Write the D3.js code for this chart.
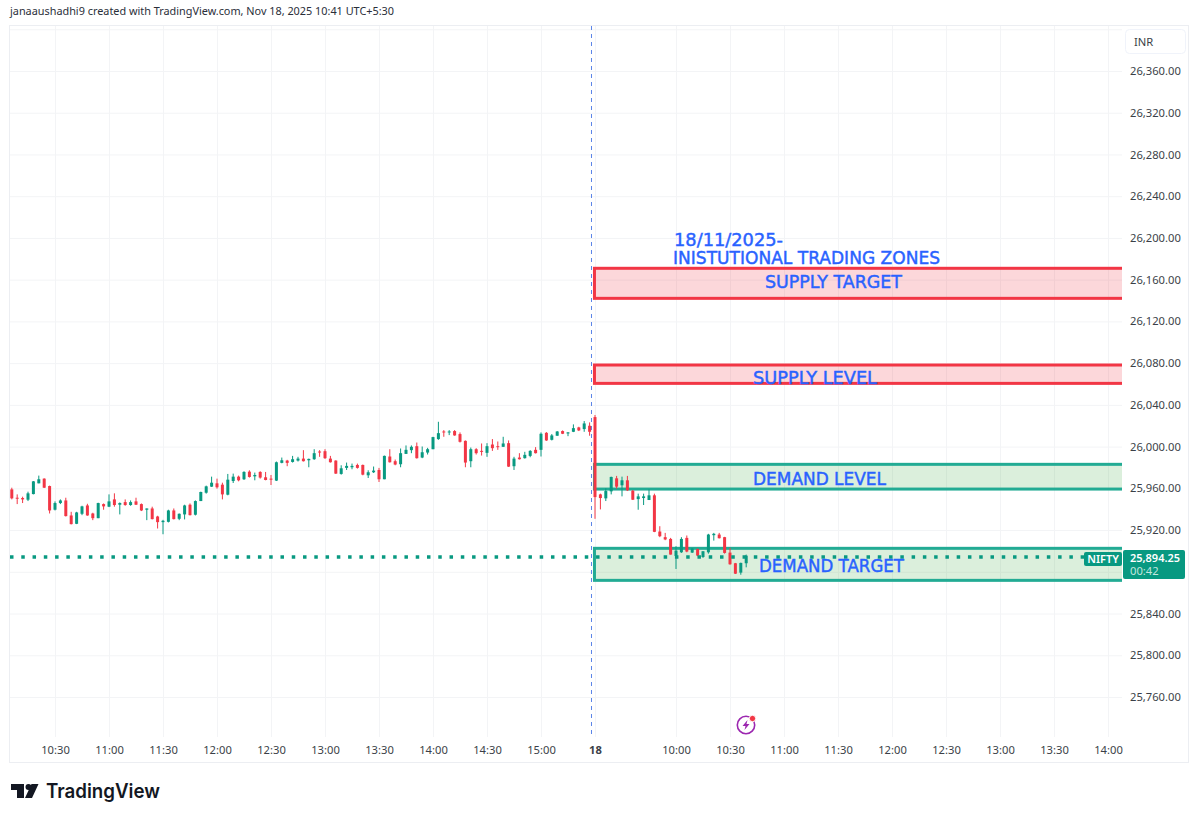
<!DOCTYPE html>
<html>
<head>
<meta charset="utf-8">
<title>NIFTY</title>
<script src="https://cdn.jsdelivr.net/npm/d3@7"></script>
<style>
  html, body { margin: 0; padding: 0; background: #fff; }
  svg { display: block; font-family: "Noto Sans", sans-serif; }
</style>
</head>
<body>
<div id="chart"></div>
<script>
// 3 minute bars, 17 Nov 10:06 through 18 Nov 10:39
const opens = [
  25959.0,25951.0,25950.7,25949.1,25954.5,25964.8,25969.3,25962.2,25939.5,25945.9,
  25948.4,25934.0,25926.0,25935.6,25943.6,25935.9,25931.4,25944.9,25942.4,25949.4,
  25944.3,25946.8,25944.0,25947.5,25944.9,25939.5,25940.7,25933.0,25927.6,25927.9,
  25938.8,25930.8,25935.0,25944.3,25934.7,25947.8,25955.8,25961.6,25964.8,25963.5,
  25953.9,25967.0,25971.2,25968.7,25976.0,25971.5,25975.7,25970.6,25969.3,25967.4,
  25984.4,25986.6,25985.3,25986.6,25988.5,25986.9,25987.9,25995.3,25995.6,25988.5,
  25986.6,25973.8,25979.6,25980.2,25982.4,25982.4,25972.5,25975.4,25977.6,25968.7,
  25990.5,25986.0,25983.1,25993.0,25996.6,26000.4,25989.5,25994.3,25997.5,26007.2,
  26014.5,26013.6,26014.9,26012.0,26005.5,25986.0,25997.5,25995.9,25994.0,26002.0,
  26000.4,25999.8,26003.3,25981.2,25989.5,25988.9,25991.1,25996.9,25996.9,26013.2,
  26006.5,26010.4,26014.9,26012.6,26014.2,26018.4,26016.8,26020.0,
  26028.3,25954.2,25950.4,25957.1,25969.6,25962.9,25967.7,25957.7,25949.7,25950.7,
  25948.8,25953.3,25918.6,25913.2,25911.5,25895.2,25898.7,25912.5,25898.4,25901.9,
  25894.2,25898.7,25915.1,25915.7,25913.2,25898.4,25888.2,25879.2,25888.2
];
const highs = [
  25960.6,25954.2,25952.0,25956.8,25967.0,25972.2,25969.6,25962.6,25947.5,25949.4,
  25951.0,25937.5,25937.5,25943.3,25945.2,25936.6,25946.2,25945.5,25954.2,25955.2,
  25946.5,25949.4,25948.4,25951.0,25945.5,25940.7,25942.4,25933.7,25929.8,25939.5,
  25940.7,25935.9,25944.3,25945.5,25948.4,25956.8,25962.6,25971.2,25969.3,25965.4,
  25973.8,25974.1,25972.2,25976.4,25977.3,25975.1,25976.4,25975.7,25972.8,25985.7,
  25989.5,25987.3,25991.1,25990.2,25996.6,25988.5,25997.5,25996.6,25997.5,25991.1,
  25986.9,25982.1,25984.7,25983.7,25983.7,25982.8,25977.3,25980.9,25979.6,25991.4,
  25997.5,25987.6,25998.2,26001.1,26001.1,26003.9,26000.1,25998.8,26009.4,26023.8,
  26015.8,26015.8,26015.8,26013.6,26005.9,25999.1,25998.5,26003.0,26003.3,26007.2,
  26004.9,26009.4,26005.9,25990.2,25993.7,25995.0,25996.6,25999.5,26013.6,26013.9,
  26012.0,26014.9,26015.5,26013.9,26021.3,26019.0,26024.5,26023.2,
  26030.3,25954.9,25960.0,25971.2,25971.9,25971.2,25971.9,25958.4,25954.9,25954.9,
  25959.0,25954.9,25923.7,25917.3,25912.5,25904.5,25913.2,25914.8,25902.6,25902.3,
  25899.7,25916.4,25917.3,25917.3,25913.5,25902.9,25888.5,25888.8,25896.5
];
const lows = [
  25949.4,25944.9,25945.9,25947.8,25954.2,25964.8,25960.3,25935.9,25938.8,25944.9,
  25933.0,25925.4,25925.7,25934.3,25933.7,25929.5,25931.4,25939.5,25942.0,25942.4,
  25935.0,25943.3,25943.3,25944.0,25938.2,25929.5,25930.2,25921.5,25916.0,25927.3,
  25930.2,25929.5,25930.2,25934.0,25934.0,25947.8,25954.9,25961.3,25959.7,25949.4,
  25953.3,25965.1,25966.7,25968.0,25970.3,25967.7,25969.3,25967.7,25963.2,25967.0,
  25984.0,25981.2,25984.7,25985.7,25985.7,25980.2,25987.3,25990.2,25988.2,25984.7,
  25973.8,25973.1,25977.6,25978.3,25978.9,25972.5,25969.9,25974.7,25966.1,25968.7,
  25984.7,25982.1,25980.2,25993.0,25993.7,25988.5,25988.9,25992.4,25997.5,26006.5,
  26009.4,26011.0,26010.4,26003.9,25980.2,25980.2,25992.4,25991.4,25990.2,25995.9,
  25996.9,25999.8,25980.5,25977.6,25987.6,25988.5,25989.8,25993.4,25990.5,26005.5,
  26005.9,26010.4,26012.0,26010.0,26013.9,26014.9,26014.2,26010.4,
  25930.8,25939.8,25947.8,25954.2,25959.7,25952.3,25957.4,25948.8,25939.5,25944.0,
  25948.8,25918.0,25913.2,25910.3,25896.5,25882.7,25898.1,25898.7,25898.1,25894.9,
  25893.3,25897.4,25909.9,25911.9,25897.4,25886.8,25877.9,25877.2,25884.3
];
const closes = [
  25950.4,25950.4,25949.4,25955.2,25966.7,25968.7,25960.6,25938.8,25945.9,25948.4,
  25933.4,25925.7,25936.9,25942.7,25934.0,25931.4,25945.9,25942.7,25947.5,25944.0,
  25945.9,25944.0,25946.8,25944.3,25938.8,25940.7,25930.5,25927.6,25928.9,25938.8,
  25930.5,25935.6,25943.6,25934.3,25947.8,25956.5,25961.9,25965.4,25961.0,25954.2,
  25968.3,25971.2,25967.7,25975.7,25970.9,25972.8,25970.3,25968.0,25968.3,25985.0,
  25986.9,25984.4,25987.9,25988.5,25986.0,25988.2,25993.7,25994.3,25988.9,25985.0,
  25974.1,25979.2,25981.5,25981.5,25979.6,25973.1,25975.4,25977.0,25968.7,25991.1,
  25985.0,25982.8,25993.7,25996.9,25999.8,25988.9,25994.6,25997.5,26009.1,26012.9,
  26013.9,26014.5,26010.7,26004.6,25984.7,25997.5,25993.7,25995.3,26000.4,25998.5,
  25999.8,26003.0,25980.8,25988.5,25987.9,25992.1,25995.9,25993.7,26012.3,26005.9,
  26010.7,26014.5,26012.3,26013.6,26017.7,26015.5,26022.2,26014.2,
  25951.6,25950.7,25957.4,25970.9,25961.6,25967.7,25958.1,25949.1,25952.3,25952.3,
  25953.3,25918.3,25914.1,25911.0,25896.5,25900.3,25911.5,25899.4,25902.3,25895.5,
  25899.7,25915.7,25916.4,25912.2,25898.1,25887.2,25878.2,25888.5,25895.5
];

// axis ticks: bar number of each time label
const timeLabels = ['10:30','11:00','11:30','12:00','12:30','13:00','13:30','14:00','14:30','15:00','18',
  '10:00','10:30','11:00','11:30','12:00','12:30','13:00','13:30','14:00'];
const timeBars = [8,18,28,38,48,58,68,78,88,98,108,123,133,143,153,163,173,183,193,203];
const priceTicks = [25760,25800,25840,25880,25920,25960,26000,26040,26080,26120,26160,26200,26240,26280,26320,26360];
const topGridPrice = 26400;

// zones drawn on the chart
const zoneNames = ['SUPPLY TARGET','SUPPLY LEVEL','DEMAND LEVEL','DEMAND TARGET'];
const zoneTops = [26170.9,26078.2,25983.0,25902.5];
const zoneBottoms = [26142.1,26060.6,25959.3,25871.8];
const zoneKinds = ['supply','supply','demand','demand'];
const zoneStartBar = 107.9;
const lastPrice = 25894.25;

const width = 1199, height = 820;
const upColor = '#089981', downColor = '#f23645', gridColor = '#f3f4f6', textBlue = '#2962ff';
const plotRight = 1122, gridBottom = 737;
const captionFont = '"DejaVu Sans", sans-serif';

const x = d3.scaleLinear().domain([0, 136]).range([11.8, 746.2]);
const y = d3.scaleLinear().domain([25760, 26360]).range([697, 71]);

const svg = d3.select('#chart').append('svg')
  .attr('width', width)
  .attr('height', height);

// zones run off the right edge of the plot
svg.append('clipPath').attr('id', 'plot-clip')
  .append('rect')
  .attr('x', 9).attr('y', 25)
  .attr('width', plotRight - 9).attr('height', gridBottom - 25);

// header
svg.append('text')
  .attr('x', 10).attr('y', 15)
  .attr('font-size', 11.5)
  .attr('fill', '#2a2e39')
  .attr('textLength', 384).attr('lengthAdjust', 'spacingAndGlyphs')
  .text('janaaushadhi9 created with TradingView.com, Nov 18, 2025 10:41 UTC+5:30');

// outer frame
svg.append('rect')
  .attr('x', 9.5).attr('y', 25.5)
  .attr('width', 1179).attr('height', 737)
  .attr('fill', 'none')
  .attr('stroke', '#eceef2');

// grid, using the axes' tick lines
const xGrid = svg.append('g')
  .attr('transform', `translate(0,${gridBottom})`)
  .call(d3.axisBottom(x).tickValues(timeBars).tickSize(-(gridBottom - 26)).tickFormat(''));
xGrid.select('.domain').remove();
xGrid.selectAll('line').attr('stroke', gridColor);

const yGrid = svg.append('g')
  .attr('transform', `translate(${plotRight},0)`)
  .call(d3.axisLeft(y).tickValues(priceTicks.concat(topGridPrice)).tickSize(plotRight - 10).tickFormat(''));
yGrid.select('.domain').remove();
yGrid.selectAll('line').attr('stroke', gridColor);

// zones
svg.append('g')
  .attr('clip-path', 'url(#plot-clip)')
  .selectAll('rect')
  .data(zoneNames)
  .enter().append('rect')
  .attr('x', x(zoneStartBar))
  .attr('y', (d, i) => y(zoneTops[i]))
  .attr('width', plotRight + 10 - x(zoneStartBar))
  .attr('height', (d, i) => y(zoneBottoms[i]) - y(zoneTops[i]))
  .attr('fill', (d, i) => zoneKinds[i] === 'supply' ? 'rgba(242,54,69,0.2)' : 'rgba(76,175,80,0.2)')
  .attr('stroke', (d, i) => zoneKinds[i] === 'supply' ? '#f23645' : '#22ab94')
  .attr('stroke-width', 3);

// session line
svg.append('line')
  .attr('x1', x(107.35)).attr('x2', x(107.35))
  .attr('y1', 26).attr('y2', gridBottom)
  .attr('stroke', '#5b84e8')
  .attr('stroke-dasharray', '4 4');

// candles
const bars = d3.range(opens.length);
const candles = svg.append('g').selectAll('g')
  .data(bars)
  .enter().append('g')
  .attr('fill', i => closes[i] >= opens[i] ? upColor : downColor)
  .attr('stroke', i => closes[i] >= opens[i] ? upColor : downColor);

candles.append('line')
  .attr('x1', i => x(i)).attr('x2', i => x(i))
  .attr('y1', i => y(highs[i])).attr('y2', i => y(lows[i]))
  .attr('stroke-width', 1);

candles.append('rect')
  .attr('x', i => x(i) - 1.5)
  .attr('width', 3)
  .attr('y', i => y(Math.max(opens[i], closes[i])))
  .attr('height', i => Math.max(1, Math.abs(y(opens[i]) - y(closes[i]))))
  .attr('stroke', 'none');

// last price line
svg.append('line')
  .attr('x1', 10).attr('x2', 1085)
  .attr('y1', y(lastPrice)).attr('y2', y(lastPrice))
  .attr('stroke', upColor)
  .attr('stroke-width', 3.5)
  .attr('stroke-dasharray', '3.5 7.77');

// zone captions, thin stroke to thicken the glyphs a bit
const captionX = [765, 753, 753, 759];
const captionY = [288, 384, 485, 572];
const captionW = [137, 124, 133, 145];
svg.append('g').selectAll('text')
  .data(zoneNames)
  .enter().append('text')
  .attr('x', (d, i) => captionX[i])
  .attr('y', (d, i) => captionY[i])
  .attr('font-size', 18)
  .attr('font-family', captionFont)
  .attr('fill', textBlue)
  .attr('stroke', textBlue).attr('stroke-width', 0.45)
  .attr('textLength', (d, i) => captionW[i])
  .attr('lengthAdjust', 'spacingAndGlyphs')
  .text(d => d);

svg.append('text')
  .attr('x', 674).attr('y', 246)
  .attr('font-size', 18).attr('font-family', captionFont).attr('fill', textBlue)
  .attr('stroke', textBlue).attr('stroke-width', 0.45)
  .attr('textLength', 109).attr('lengthAdjust', 'spacingAndGlyphs')
  .text('18/11/2025-');
svg.append('text')
  .attr('x', 673).attr('y', 264)
  .attr('font-size', 18).attr('font-family', captionFont).attr('fill', textBlue)
  .attr('stroke', textBlue).attr('stroke-width', 0.45)
  .attr('textLength', 267).attr('lengthAdjust', 'spacingAndGlyphs')
  .text('INISTUTIONAL TRADING ZONES');

// price axis
const yAxis = svg.append('g')
  .attr('transform', 'translate(1130,0)')
  .call(d3.axisRight(y).tickValues(priceTicks).tickSize(0).tickPadding(0).tickFormat(d3.format(',.2f')));
yAxis.select('.domain').remove();
yAxis.selectAll('text')
  .attr('font-size', 11.2)
  .attr('fill', '#3b3f48');

// time axis
const xAxis = svg.append('g')
  .attr('transform', 'translate(0,746)')
  .call(d3.axisBottom(x).tickValues(timeBars).tickSize(0).tickPadding(0).tickFormat((d, i) => timeLabels[i]));
xAxis.select('.domain').remove();
xAxis.selectAll('text')
  .attr('font-size', 11.2)
  .attr('font-weight', d => d === 108 ? 700 : 400)
  .attr('fill', '#3b3f48');
// the axis groups set their own family, so drop it to inherit the chart font
yAxis.attr('font-family', null);
xAxis.attr('font-family', null);

// currency button
svg.append('rect')
  .attr('x', 1125.5).attr('y', 29.5)
  .attr('width', 60).attr('height', 24).attr('rx', 4)
  .attr('fill', '#fff').attr('stroke', '#f0f3fa');
svg.append('text')
  .attr('x', 1134).attr('y', 46)
  .attr('font-size', 11.2).attr('fill', '#3b3f48')
  .text('INR');

// last price tags
svg.append('rect')
  .attr('x', 1084).attr('y', 552)
  .attr('width', 38).attr('height', 14).attr('rx', 2)
  .attr('fill', upColor);
svg.append('text')
  .attr('x', 1103).attr('y', 563)
  .attr('text-anchor', 'middle')
  .attr('font-size', 11).attr('font-weight', 600).attr('fill', '#fff')
  .text('NIFTY');

svg.append('rect')
  .attr('x', 1123).attr('y', 550)
  .attr('width', 62).attr('height', 29).attr('rx', 2)
  .attr('fill', upColor);
svg.append('text')
  .attr('x', 1130).attr('y', 561.5)
  .attr('font-size', 11.2).attr('font-weight', 600).attr('fill', '#fff')
  .attr('textLength', 50).attr('lengthAdjust', 'spacingAndGlyphs')
  .text(d3.format(',.2f')(lastPrice));
svg.append('text')
  .attr('x', 1130).attr('y', 574.5)
  .attr('font-size', 11.2).attr('fill', '#c3e6df')
  .text('00:42');

// flash icon
const flash = svg.append('g').attr('transform', 'translate(746,725)');
flash.append('circle')
  .attr('r', 8.7)
  .attr('fill', '#fff').attr('stroke', '#9c27b0').attr('stroke-width', 1.6);
flash.append('path')
  .attr('d', 'M1.5,-5 L-3.5,1 L-0.5,1 L-1.5,5 L3.5,-1 L0.5,-1 Z')
  .attr('fill', '#9c27b0');
flash.append('circle')
  .attr('cx', 6.5).attr('cy', -6.5).attr('r', 3.2)
  .attr('fill', '#f23645').attr('stroke', '#fff').attr('stroke-width', 1);

// TradingView logo
svg.append('path')
  .attr('d', 'M11,784 H24 V798 H17 V790 H11 Z M38.5,784 L32,798 H25 L31.5,784 Z')
  .attr('fill', '#131722');
svg.append('circle')
  .attr('cx', 28.5).attr('cy', 787).attr('r', 3)
  .attr('fill', '#131722');
svg.append('text')
  .attr('x', 46).attr('y', 798)
  .attr('font-size', 20).attr('font-weight', 600)
  .attr('font-family', 'Inter, sans-serif')
  .attr('fill', '#131722')
  .attr('textLength', 114).attr('lengthAdjust', 'spacingAndGlyphs')
  .text('TradingView');
</script>
</body>
</html>
